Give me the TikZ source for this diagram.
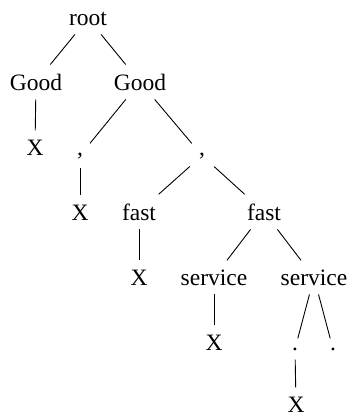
\documentclass[tikz,border=0pt]{standalone}
\usepackage{fontspec}
\setmainfont{Liberation Serif}
\usepackage{tikz}

\begin{document}
\begin{tikzpicture}[x=1bp,y=-1bp,-]
            \useasboundingbox (0,0) rectangle (348,417);
            \tikzstyle{word}=[anchor=base,inner sep=9bp,font=\fontsize{23.5bp}{28bp}\selectfont]
            \tikzstyle{branch}=[line width=0.9bp]

            \node[word] (W-root) at (88,25) {root};
            \node[word] (W-good1) at (36,90) {Good};
            \node[word] (W-good2) at (140,90) {Good};
            \node[word] (W-x1) at (35,155) {X};
            \node[word] (W-comma1) at (80,155) {,};
            \node[word] (W-comma2) at (202,155) {,};
            \node[word] (W-x2) at (80,220) {X};
            \node[word] (W-fast1) at (139,220) {fast};
            \node[word] (W-fast2) at (264,220) {fast};
            \node[word] (W-x3) at (139,285) {X};
            \node[word] (W-service1) at (214,285) {service};
            \node[word] (W-service2) at (314,285) {service};
            \node[word] (W-x4) at (214,350) {X};
            \node[word] (W-dot1) at (295,350) {.};
            \node[word] (W-dot2) at (333,350) {.};
            \node[word] (W-x5) at (296,412) {X};

            \foreach \from/\to in {root/good1, root/good2, good1/x1, good2/comma1, good2/comma2,
                                   comma1/x2, comma2/fast1, comma2/fast2, fast1/x3,
                                   fast2/service1, fast2/service2, service1/x4,
                                   service2/dot1, service2/dot2, dot1/x5}
                \draw[branch] (W-\from) -- (W-\to);

        \end{tikzpicture}
\end{document}
